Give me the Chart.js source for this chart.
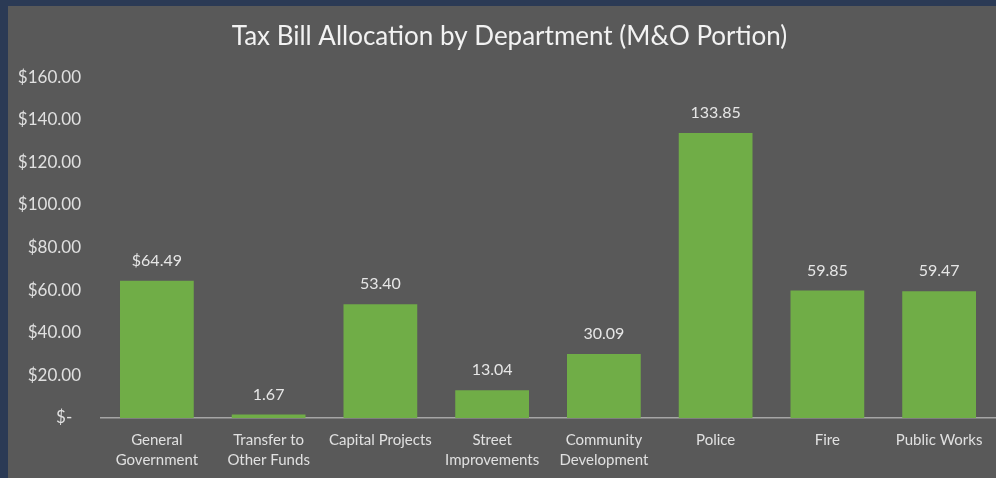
<!DOCTYPE html>
<html>
<head>
<meta charset="utf-8">
<script src="https://cdn.jsdelivr.net/npm/chart.js@4/dist/chart.umd.min.js"></script>
<style>
  html, body { margin: 0; padding: 0; background: #2b3a55; }
  #wrap { width: 996px; height: 478px; position: relative; }
</style>
</head>
<body>
<div id="wrap"><canvas id="c" width="996" height="478"></canvas></div>
<script>
const categories = [
  ['General', 'Government'],
  ['Transfer to', 'Other Funds'],
  'Capital Projects',
  ['Street', 'Improvements'],
  ['Community', 'Development'],
  'Police',
  'Fire',
  'Public Works'
];
const values = [64.49, 1.67, 53.40, 13.04, 30.09, 133.85, 59.85, 59.47];
const valueLabels = ['$64.49', '1.67', '53.40', '13.04', '30.09', '133.85', '59.85', '59.47'];
const yTickMin = 0, yTickMax = 160, yTickStep = 20;

const FONT = 'Lato, "Open Sans", sans-serif';

const framePlugin = {
  id: 'frame',
  beforeDraw(chart) {
    const ctx = chart.ctx;
    ctx.save();
    ctx.fillStyle = '#2b3a55';
    ctx.fillRect(0, 0, chart.width, chart.height);
    ctx.fillStyle = '#595959';
    ctx.fillRect(8, 6, chart.width - 8, chart.height - 6);
    ctx.restore();
  }
};

const titleShiftPlugin = {
  id: 'titleShift',
  afterLayout(chart) {
    if (chart.titleBlock) { chart.titleBlock.left += 16; }
  }
};

const valueLabelPlugin = {
  id: 'valueLabels',
  afterDatasetsDraw(chart) {
    const ctx = chart.ctx;
    const meta = chart.getDatasetMeta(0);
    ctx.save();
    ctx.fillStyle = '#e6e6e6';
    ctx.font = '16px ' + FONT;
    ctx.textAlign = 'center';
    ctx.textBaseline = 'middle';
    meta.data.forEach((bar, i) => {
      ctx.fillText(valueLabels[i], bar.x, bar.y - 20);
    });
    ctx.restore();
  }
};

new Chart(document.getElementById('c'), {
  type: 'bar',
  data: {
    labels: categories,
    datasets: [{
      data: values,
      backgroundColor: '#70ad47',
      borderWidth: 0,
      barPercentage: 0.66,
      categoryPercentage: 1.0
    }]
  },
  options: {
    responsive: false,
    animation: false,
    devicePixelRatio: 1,
    layout: { padding: { left: 8, right: 1, top: 6, bottom: 0 } },
    plugins: {
      legend: { display: false },
      tooltip: { enabled: false },
      title: {
        display: true,
        text: 'Tax Bill Allocation by Department (M&O Portion)',
        color: '#f2f2f2',
        font: { family: FONT, size: 26, weight: 'normal' },
        padding: { top: 15, bottom: 25 }
      }
    },
    scales: {
      x: {
        grid: { display: false, drawTicks: false },
        border: { display: true, color: '#a6a6a6', width: 1.5 },
        afterFit(scale) { scale.height = 60; },
        ticks: {
          color: '#e0e0e0',
          font: { family: FONT, size: 15, lineHeight: 1.33 },
          padding: 12,
          maxRotation: 0,
          autoSkip: false
        }
      },
      y: {
        min: yTickMin,
        max: yTickMax,
        grid: { display: false, drawTicks: false },
        border: { display: false },
        afterFit(scale) { scale.width = 93; },
        ticks: {
          stepSize: yTickStep,
          color: '#e0e0e0',
          font: { family: FONT, size: 17 },
          padding: 20,
          callback: (v) => v === 0 ? '$-  ' : '$' + Number(v).toFixed(2)
        }
      }
    }
  },
  plugins: [framePlugin, titleShiftPlugin, valueLabelPlugin]
});
</script>
</body>
</html>
